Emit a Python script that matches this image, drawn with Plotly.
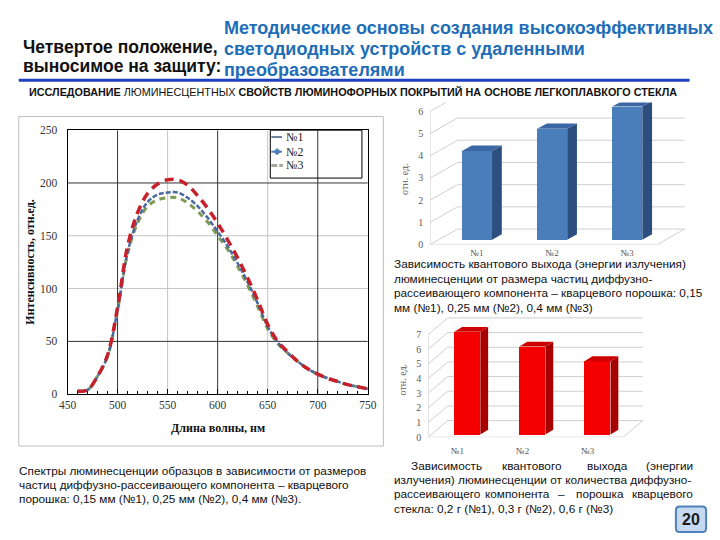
import plotly.graph_objects as go

# ---------------- data ----------------
wavelength = [460, 470, 480, 490, 500, 510, 520, 530, 540, 550, 560, 570, 580, 590, 600,
              610, 620, 630, 640, 650, 660, 670, 680, 690, 700, 710, 720, 730, 740, 750]
spec_blue = [3, 4, 17, 36, 80, 134, 165, 182, 189, 191, 191, 186, 178, 167, 154,
             140, 124, 106, 86, 64, 49, 39, 31, 24, 19, 15, 12, 9, 7, 5]
spec_red = [3, 4, 17, 37, 82, 140, 172, 190, 199, 203, 203, 198, 188, 176, 162,
            146, 129, 110, 89, 66, 50, 40, 31, 24, 19, 15, 12, 9, 7, 5]
spec_green = [3, 4, 17, 36, 79, 133, 162, 178, 184, 186, 186, 181, 173, 163, 150,
              137, 121, 103, 83, 62, 48, 39, 31, 24, 19, 15, 12, 9, 7, 5]
legend_names = ["№1", "№2", "№3"]

bar_cats = ["№1", "№2", "№3"]
qy_size = [4, 5, 6]        # top-right chart
qy_amount = [7, 6, 5]      # bottom-right chart
top_ticks = [0, 1, 2, 3, 4, 5, 6]
bot_ticks = [0, 1, 2, 3, 4, 5, 6, 7]

W, H = 720, 540
def px(x): return x / W
def py(y): return 1 - y / H

SERIF = "Liberation Serif"
SANS = "Liberation Sans"

fig = go.Figure()

# ---------------- line chart ----------------
fig.add_trace(go.Scatter(x=wavelength, y=spec_green, mode="lines", line=dict(color="#7f9a55", width=3, dash="6px,5px", shape="spline"),
                         showlegend=False, xaxis="x", yaxis="y", name=legend_names[2]))
fig.add_trace(go.Scatter(x=wavelength, y=spec_blue, mode="lines", line=dict(color="#4a69a0", width=2.5, dash="5px,2px", shape="spline"),
                         showlegend=False, xaxis="x", yaxis="y", name=legend_names[0]))
fig.add_trace(go.Scatter(x=wavelength, y=spec_red, mode="lines", line=dict(color="#c8202a", width=3.5, dash="9px,6px", shape="spline"),
                         showlegend=False, xaxis="x", yaxis="y", name=legend_names[1]))

shapes = []
ann = []
def text(x, y, s, size, color="#111", family=SANS, anchor="left", angle=0, bold=False):
    if bold:
        s = "<b>" + s + "</b>"
    ann.append(dict(x=px(x), y=py(y), xref="paper", yref="paper", text=s, showarrow=False, xanchor=anchor,
                    yanchor="middle", textangle=angle, font=dict(family=family, size=size, color=color)))

# outer chart frame
shapes.append(dict(type="rect", xref="paper", yref="paper", x0=px(10), x1=px(384), y0=py(113), y1=py(450),
                   line=dict(color="#bfbfbf", width=1), layer="below"))
for gx in [550, 650]:
    shapes.append(dict(type="line", xref="x", yref="y", x0=gx, x1=gx, y0=0, y1=250, line=dict(color="#c4c4c4", width=1), layer="below"))
for gy in [100, 150]:
    shapes.append(dict(type="line", xref="x", yref="y", x0=450, x1=750, y0=gy, y1=gy, line=dict(color="#c4c4c4", width=1), layer="below"))
for gx in [500, 600, 700]:
    shapes.append(dict(type="line", xref="x", yref="y", x0=gx, x1=gx, y0=0, y1=250, line=dict(color="#333333", width=1), layer="below"))
for gy in [50, 200]:
    shapes.append(dict(type="line", xref="x", yref="y", x0=450, x1=750, y0=gy, y1=gy, line=dict(color="#333333", width=1), layer="below"))

# legend box (transparent, as in the reference)
shapes.append(dict(type="rect", xref="paper", yref="paper", x0=px(268), x1=px(362), y0=py(127), y1=py(176),
                   line=dict(color="black", width=1)))
leg_y = [134, 149, 163]
shapes.append(dict(type="line", xref="paper", yref="paper", x0=px(269), x1=px(280), y0=py(leg_y[0]), y1=py(leg_y[0]),
                   line=dict(color="#71839f", width=2)))
shapes.append(dict(type="line", xref="paper", yref="paper", x0=px(269), x1=px(280), y0=py(leg_y[1]), y1=py(leg_y[1]),
                   line=dict(color="#4f81bd", width=2)))
cx, cy, d = 275, leg_y[1], 3.2
shapes.append(dict(type="path", xref="paper", yref="paper",
                   path=f"M {px(cx - d)} {py(cy)} L {px(cx)} {py(cy - d)} L {px(cx + d)} {py(cy)} L {px(cx)} {py(cy + d)} Z",
                   fillcolor="#4f81bd", line=dict(color="#4f81bd", width=1)))
shapes.append(dict(type="line", xref="paper", yref="paper", x0=px(269), x1=px(281), y0=py(leg_y[2]), y1=py(leg_y[2]),
                   line=dict(color="#a3aa97", width=3, dash="6px,2px")))
for name, ly in zip(legend_names, leg_y):
    text(282, ly, name, 12, "#222", family=SERIF)

# ---------------- 3D-like bar charts ----------------
def bar3d(values, xa, ya, width, base, dx, dy, c_front, c_side, c_top):
    xs = list(range(len(values)))
    fig.add_trace(go.Bar(x=xs, y=values, base=[base] * len(values), width=width, marker=dict(color=c_front, line=dict(width=0)),
                         xaxis=xa, yaxis=ya, showlegend=False))
    for i, v in enumerate(values):
        xr = i + width / 2
        xl = i - width / 2
        top = base + v
        fig.add_trace(go.Scatter(x=[xr, xr + dx, xr + dx, xr, xr], y=[base, base + dy, top + dy, top, base],
                                 fill="toself", fillcolor=c_side, mode="lines", line=dict(width=0, color=c_side),
                                 xaxis=xa, yaxis=ya, showlegend=False, hoverinfo="skip"))
        fig.add_trace(go.Scatter(x=[xl, xr, xr + dx, xl + dx, xl], y=[top, top, top + dy, top + dy, top],
                                 fill="toself", fillcolor=c_top, mode="lines", line=dict(width=0, color=c_top),
                                 xaxis=xa, yaxis=ya, showlegend=False, hoverinfo="skip"))

def walls(xa, ya, x0, xr, dxw, dyw, vmax):
    g = dict(color="#cfcfcf", width=1)
    shapes.append(dict(type="line", xref=xa, yref=ya, x0=x0, x1=x0, y0=0, y1=vmax, line=g, layer="below"))
    for v in range(vmax + 1):
        shapes.append(dict(type="line", xref=xa, yref=ya, x0=x0, x1=x0 + dxw, y0=v, y1=v + dyw, line=g, layer="below"))
        shapes.append(dict(type="line", xref=xa, yref=ya, x0=x0 + dxw, x1=xr + dxw, y0=v + dyw, y1=v + dyw, line=g, layer="below"))
    shapes.append(dict(type="line", xref=xa, yref=ya, x0=x0, x1=xr, y0=0, y1=0, line=g, layer="below"))
    shapes.append(dict(type="line", xref=xa, yref=ya, x0=xr, x1=xr + dxw, y0=0, y1=dyw, line=g, layer="below"))

walls("x2", "y2", -0.623, 2.40, 0.364, 0.70, 6)
bar3d(qy_size, "x2", "y2", 0.40, 0.22, 0.13, 0.24, "#4a7ebb", "#2c4f7f", "#3a67a3")
walls("x3", "y3", -0.60, 2.396, 0.30, 1.13, 7)
bar3d(qy_amount, "x3", "y3", 0.40, 0.18, 0.12, 0.33, "#f40000", "#a80000", "#cc0000")

tickfont_small = dict(family=SERIF, size=10, color="#595959")
tickfont_cat = dict(family=SERIF, size=9, color="#595959")

fig.update_layout(
    width=W, height=H, margin=dict(l=0, r=0, t=0, b=0),
    paper_bgcolor="white", plot_bgcolor="rgba(0,0,0,0)", showlegend=False,
    xaxis=dict(domain=[px(60), px(368)], range=[450, 750], tick0=450, dtick=50, showgrid=False, zeroline=False,
               showline=True, linecolor="black", linewidth=1, mirror=True, ticks="inside", ticklen=5, tickcolor="black",
               minor=dict(dtick=10, ticks="inside", ticklen=3, tickcolor="black", showgrid=False),
               tickfont=dict(family=SERIF, size=11.5, color="#333"), anchor="y"),
    yaxis=dict(domain=[1 - 397 / H, 1 - 127 / H], range=[0, 250], dtick=50, showgrid=False, zeroline=False,
               showline=True, linecolor="black", linewidth=1, mirror=True, ticks="", ticklabelstandoff=7,
               tickfont=dict(family=SERIF, size=11.5, color="#333"), anchor="x"),
    xaxis2=dict(domain=[px(432), px(695)], range=[-0.623, 2.79], showgrid=False, zeroline=False, showline=False,
                tickvals=[0, 1, 2], ticktext=bar_cats, ticks="", ticklabelstandoff=1, tickfont=tickfont_cat,
                anchor="y2"),
    yaxis2=dict(domain=[1 - 244 / H, 1 - 98.7 / H], range=[0, 6.4], showgrid=False, zeroline=False, showline=False,
                tickvals=top_ticks, ticks="", ticklabelstandoff=6, tickfont=tickfont_small, anchor="x2"),
    xaxis3=dict(domain=[px(430), px(655)], range=[-0.60, 2.77], showgrid=False, zeroline=False, showline=False,
                tickvals=[-0.15, 0.85, 1.85], ticktext=bar_cats, ticks="", ticklabelstandoff=7, tickfont=tickfont_cat,
                anchor="y3"),
    yaxis3=dict(domain=[1 - 441 / H, 1 - 316 / H], range=[0, 8.33], showgrid=False, zeroline=False, showline=False,
                tickvals=bot_ticks, ticks="", ticklabelstandoff=6, tickfont=tickfont_small, anchor="x3"),
    bargap=0,
)

# header rule
shapes.append(dict(type="line", xref="paper", yref="paper", x0=px(10), x1=px(698), y0=py(76), y1=py(76),
                   line=dict(color="#1f40bf", width=3)))
# slide number box (rounded)
bx0, bx1, by0, by1, r = 684, 715, 512, 538, 4
path = (f"M {px(bx0 + r)} {py(by0)} L {px(bx1 - r)} {py(by0)} Q {px(bx1)} {py(by0)} {px(bx1)} {py(by0 + r)} "
        f"L {px(bx1)} {py(by1 - r)} Q {px(bx1)} {py(by1)} {px(bx1 - r)} {py(by1)} "
        f"L {px(bx0 + r)} {py(by1)} Q {px(bx0)} {py(by1)} {px(bx0)} {py(by1 - r)} "
        f"L {px(bx0)} {py(by0 + r)} Q {px(bx0)} {py(by0)} {px(bx0 + r)} {py(by0)} Z")
shapes.append(dict(type="path", xref="paper", yref="paper", path=path, fillcolor="#c6d9f1",
                   line=dict(color="#4f81bd", width=2)))
fig.update_layout(shapes=shapes)

# headers
BLUE = "#1e6db7"
text(218, 22, "Методические основы создания высокоэффективных", 18, BLUE, bold=True)
text(218, 44, "светодиодных устройств с удаленными", 18, BLUE, bold=True)
text(218, 65, "преобразователями", 18, BLUE, bold=True)
text(12, 42, "Четвертое положение,", 17.5, "#111", bold=True)
text(12, 61, "выносимое на защиту:", 17.5, "#111", bold=True)
text(18, 88, "<b>ИССЛЕДОВАНИЕ</b> ЛЮМИНЕСЦЕНТНЫХ <b>СВОЙСТВ ЛЮМИНОФОРНЫХ ПОКРЫТИЙ НА ОСНОВЕ ЛЕГКОПЛАВКОГО СТЕКЛА</b>",
     10.8, "#111")

# axis titles
text(22, 262, "Интенсивность, отн.ед.", 12, "#111", family=SERIF, anchor="center", angle=-90, bold=True)
text(214, 432, "Длина волны, нм", 12, "#111", family=SERIF, anchor="center", bold=True)
text(405, 177, "отн. ед.", 10, "#595959", family=SERIF, anchor="center", angle=-90)
text(404, 382, "отн. ед.", 10, "#595959", family=SERIF, anchor="center", angle=-90)

# captions
CF = 11.8
text(8, 476, "Спектры люминесценции образцов в зависимости от размеров", CF)
text(8, 490, "частиц диффузно-рассеивающего компонента – кварцевого", CF)
text(8, 504, "порошка: 0,15 мм (№1), 0,25 мм (№2), 0,4 мм (№3).", CF)

text(393, 264, "Зависимость квантового выхода (энергии излучения)", CF)
text(393, 279, "люминесценции от размера частиц диффузно-", CF)
text(393, 294, "рассеивающего компонента – кварцевого порошка: 0,15", CF)
text(393, 309, "мм (№1), 0,25 мм (№2), 0,4 мм (№3)", CF)

text(410, 470, "Зависимость", CF)
text(536, 470, "квантового", CF, anchor="center")
text(614, 470, "выхода", CF, anchor="center")
text(704, 470, "(энергии", CF, anchor="right")
text(393, 485, "излучения) люминесценции от количества диффузно-", CF)
text(393, 499, "рассеивающего", CF)
text(522, 499, "компонента", CF, anchor="center")
text(567, 499, "–", CF, anchor="center")
text(606, 499, "порошка", CF, anchor="center")
text(704, 499, "кварцевого", CF, anchor="right")
text(393, 514, "стекла: 0,2 г (№1), 0,3 г (№2), 0,6 г (№3)", CF)

text(699.5, 525, "20", 16, "#1a1a1a", anchor="center", bold=True)

fig.update_layout(annotations=ann)
fig.write_html("out.html", config={"displayModeBar": False},
               post_script="document.body.style.margin='0';")
